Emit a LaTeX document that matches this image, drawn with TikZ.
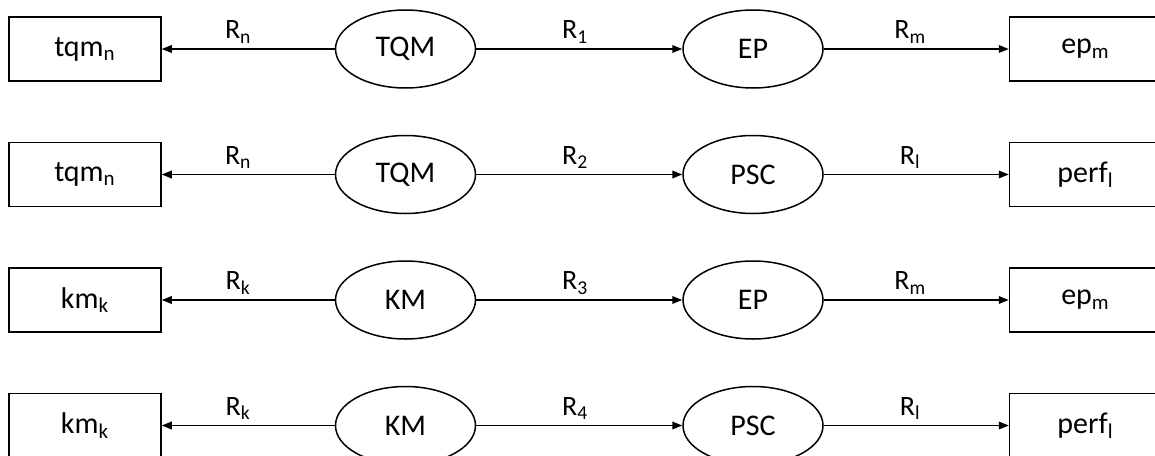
\documentclass[tikz,border=0pt]{standalone}
\usepackage{fontspec}
\setmainfont{Carlito}
\usetikzlibrary{shapes.geometric,arrows.meta,positioning}

\begin{document}
\begin{tikzpicture}[
    node distance=30pt and 86.5pt,
    var/.style={rectangle, draw, line width=0.75pt, minimum width=76pt, minimum height=32pt, inner sep=0pt, font=\fontsize{15pt}{18pt}\selectfont},
    construct/.style={ellipse, draw, line width=0.75pt, minimum width=70pt, minimum height=39pt, inner sep=0pt, font=\fontsize{15pt}{18pt}\selectfont},
    arrow/.style={-{Triangle[length=5pt,width=3.8pt]}, line width=0.75pt},
    rel/.style={above, inner sep=2.5pt, font=\fontsize{14pt}{17pt}\selectfont}
]
    \useasboundingbox (0,0) rectangle (577.5pt,-227.5pt);

    % first column: left boxes
    \node[var] (tqmn1) at (42.5pt,-24.5pt) {tqm\textsubscript{n}};
    \node[var, below=of tqmn1] (tqmn2) {tqm\textsubscript{n}};
    \node[var, below=of tqmn2] (kmk1) {km\textsubscript{k}};
    \node[var, below=of kmk1] (kmk2) {km\textsubscript{k}};

    % constructs
    \node[construct, right=of tqmn1] (tqm1) {TQM};
    \node[construct, right=of tqmn2] (tqm2) {TQM};
    \node[construct, right=of kmk1] (km1) {KM};
    \node[construct, right=of kmk2] (km2) {KM};

    \node[construct, right=103pt of tqm1] (ep1) {EP};
    \node[construct, right=103pt of tqm2] (psc1) {PSC};
    \node[construct, right=103pt of km1] (ep2) {EP};
    \node[construct, right=103pt of km2] (psc2) {PSC};

    % last column: right boxes
    \node[var, right=92.5pt of ep1] (epm1) {ep\textsubscript{m}};
    \node[var, right=92.5pt of psc1] (perfl1) {perf\textsubscript{l}};
    \node[var, right=92.5pt of ep2] (epm2) {ep\textsubscript{m}};
    \node[var, right=92.5pt of psc2] (perfl2) {perf\textsubscript{l}};

    \draw[arrow] (tqm1) -- node[rel, xshift=-5pt] {R\textsubscript{n}} (tqmn1);
    \draw[arrow] (tqm1) -- node[rel, xshift=-2pt] {R\textsubscript{1}} (ep1);
    \draw[arrow] (ep1) -- node[rel, xshift=-3pt] {R\textsubscript{m}} (epm1);

    \draw[arrow] (tqm2) -- node[rel, xshift=-5pt] {R\textsubscript{n}} (tqmn2);
    \draw[arrow] (tqm2) -- node[rel, xshift=-2pt] {R\textsubscript{2}} (psc1);
    \draw[arrow] (psc1) -- node[rel, xshift=-3pt] {R\textsubscript{l}} (perfl1);

    \draw[arrow] (km1) -- node[rel, xshift=-5pt] {R\textsubscript{k}} (kmk1);
    \draw[arrow] (km1) -- node[rel, xshift=-2pt] {R\textsubscript{3}} (ep2);
    \draw[arrow] (ep2) -- node[rel, xshift=-3pt] {R\textsubscript{m}} (epm2);

    \draw[arrow] (km2) -- node[rel, xshift=-5pt] {R\textsubscript{k}} (kmk2);
    \draw[arrow] (km2) -- node[rel, xshift=-2pt] {R\textsubscript{4}} (psc2);
    \draw[arrow] (psc2) -- node[rel, xshift=-3pt] {R\textsubscript{l}} (perfl2);
\end{tikzpicture}
\end{document}
